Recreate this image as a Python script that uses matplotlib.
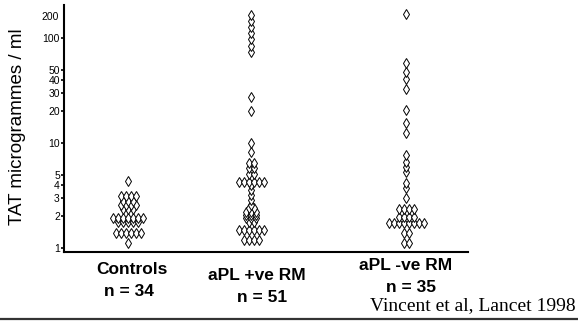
import numpy as np
import matplotlib
matplotlib.use("Agg")
import matplotlib.pyplot as plt
from matplotlib.ticker import NullLocator

# ---- data (TAT, micrograms/ml) ----
groups = ["Controls", "aPL +ve RM", "aPL -ve RM"]
group_n = ["n = 34", "n = 51", "n = 35"]

controls = ([4.3] + [3.1] * 4 + [2.8] * 3 + [2.55] * 4 + [2.35] * 3 +
            [1.93] * 7 + [1.77] * 5 + [1.39] * 6 + [1.12])
apl_pos = ([166, 145, 127, 111, 97, 84, 73, 27.4, 20.2, 9.9, 8.2] +
           [6.4] * 2 + [5.75] * 2 + [5.1] * 2 + [4.28] * 6 + [4.0] + [3.6] +
           [3.2] + [2.86] + [2.57] + [2.4] * 2 + [2.2] * 3 + [2.06] * 3 +
           [1.92] * 3 + [1.78] * 2 + [1.48] * 6 + [1.19] * 4)
apl_neg = ([169, 58, 47.6, 40.4, 32.5, 20.6, 15.5, 12.5, 7.7, 6.6, 5.95,
            5.33, 4.13, 3.7, 2.97] + [2.34] * 4 + [1.99] * 4 + [1.74] * 8 +
           [1.4] * 2 + [1.12] * 2)
series = [controls, apl_pos, apl_neg]

ytick_vals = [1, 2, 3, 4, 5, 10, 20, 30, 40, 50, 100]
ytick_labels = ["1", "2", "3", "4", "5", "10", "20", "30", "40", "50", "100"]

plt.rcParams["font.family"] = ["Liberation Sans", "DejaVu Sans"]

W, H = 578, 322
fig = plt.figure(figsize=(W / 100, H / 100), dpi=100)
ax_left, ax_right, ax_bot, ax_top = 64, 468, 252, 5
ax = fig.add_axes([ax_left / W, 1 - ax_bot / H, (ax_right - ax_left) / W,
                   (ax_bot - ax_top) / H])

centers = [(128 - ax_left) / (ax_right - ax_left),
           (251 - ax_left) / (ax_right - ax_left),
           (406 - ax_left) / (ax_right - ax_left)]
dx = 5.0 / (ax_right - ax_left)

for c, vals in zip(centers, series):
    vals = np.asarray(vals, dtype=float)
    uniq = np.unique(vals)
    for u in uniq:
        k = int(np.sum(vals == u))
        offs = (np.arange(k) - (k - 1) / 2) * dx
        ax.plot(c + offs, [u] * k, linestyle="none", marker="d",
                markersize=4.6, markerfacecolor="white",
                markeredgecolor="black", markeredgewidth=0.7)

ax.set_yscale("log")
ax.set_xlim(0, 1)
ax.set_ylim(0.916, 206)
ax.set_xticks([])
ax.set_yticks(ytick_vals)
ax.set_yticklabels(ytick_labels)
ax.yaxis.set_minor_locator(NullLocator())
ax.tick_params(axis="y", direction="out", length=2, width=1.2, pad=1,
               labelsize=7.5)
for s in ["top", "right"]:
    ax.spines[s].set_visible(False)
for s in ["left", "bottom"]:
    ax.spines[s].set_linewidth(1.5)

# the "200" label sits without its own tick mark
ax.text(-0.012, 158, "200", transform=ax.get_yaxis_transform(),
        ha="right", va="center", fontsize=7.5)

fig.text(18 / W, 1 - 127 / H, "TAT microgrammes / ml", rotation=90,
         ha="center", va="center", fontsize=13.5)

title_pos = [(132, 270), (257, 276), (406, 266)]
n_pos = [(129, 292), (262, 297), (411, 288)]
for g, n, (tx, ty), (nx, ny) in zip(groups, group_n, title_pos, n_pos):
    fig.text(tx / W, 1 - ty / H, g, ha="center", va="center",
             fontsize=12.5, fontweight="bold")
    fig.text(nx / W, 1 - ny / H, n, ha="center", va="center",
             fontsize=12.5, fontweight="bold")

fig.text(576 / W, 1 - 306 / H, "Vincent et al, Lancet 1998", ha="right",
         va="center", fontsize=14, family=["Liberation Serif", "DejaVu Serif"])

fig.add_artist(plt.Line2D([0, 1], [1 - 318.5 / H, 1 - 318.5 / H],
                          transform=fig.transFigure, color="#333333",
                          linewidth=1.6))

fig.savefig("out.png", dpi=100)
